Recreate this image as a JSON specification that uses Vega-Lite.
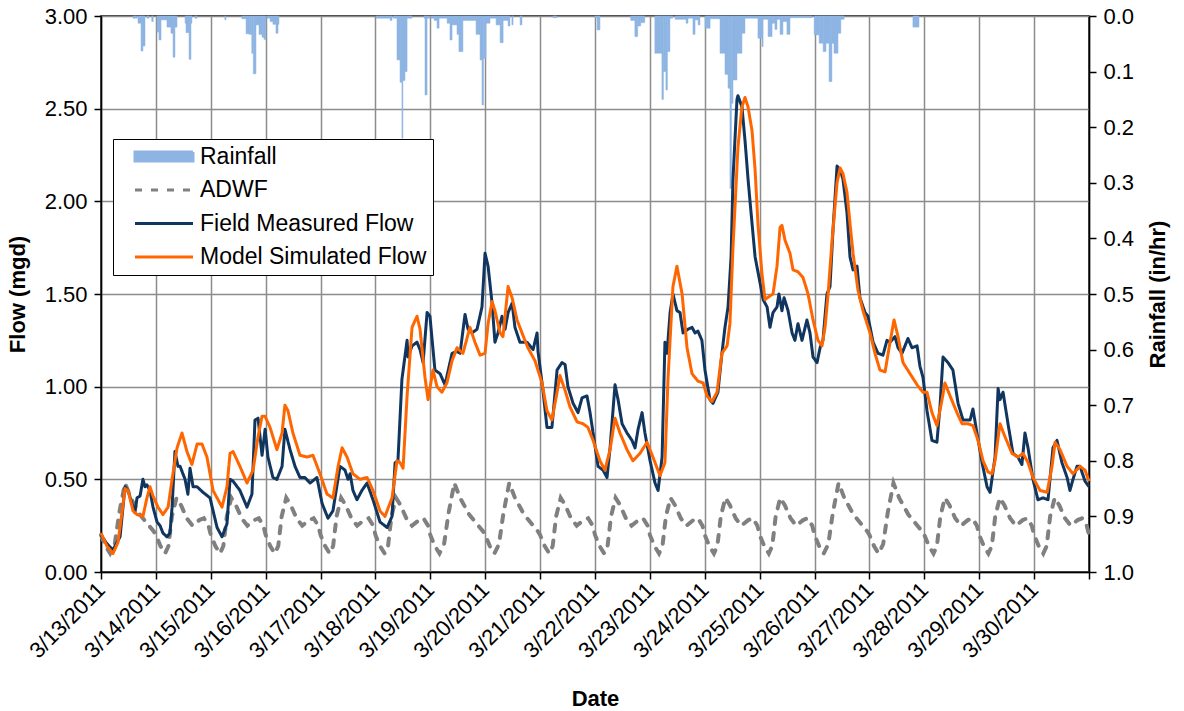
{
  "$schema": "https://vega.github.io/schema/vega-lite/v6.json",
  "width": 988,
  "height": 556,
  "autosize": {"type": "none"},
  "padding": {"left": 101, "top": 16, "right": 95, "bottom": 139},
  "background": "white",
  "config": {
    "font": "Liberation Sans",
    "view": {"stroke": "black", "strokeWidth": 1.5},
    "axis": {
      "labelFont": "Liberation Sans", "labelFontSize": 22, "labelColor": "black",
      "titleFont": "Liberation Sans", "titleFontSize": 22, "titleFontWeight": "bold", "titleColor": "black",
      "domainColor": "black", "domainWidth": 1.5, "tickColor": "black", "tickWidth": 1.5, "tickSize": 7,
      "gridColor": "#8c8c8c", "gridWidth": 1.5, "gridOpacity": 1, "labelPadding": 7
    }
  },
  "datasets": {
    "rain": [
      {"t":"2011-03-13T14:00Z","t2":"2011-03-13T15:45Z","r":0.004},
      {"t":"2011-03-13T16:10Z","t2":"2011-03-13T17:30Z","r":0.013},
      {"t":"2011-03-13T17:30Z","t2":"2011-03-13T18:20Z","r":0.063},
      {"t":"2011-03-13T18:20Z","t2":"2011-03-13T19:15Z","r":0.054},
      {"t":"2011-03-13T20:05Z","t2":"2011-03-13T21:00Z","r":0.004},
      {"t":"2011-03-13T22:10Z","t2":"2011-03-13T22:50Z","r":0.010},
      {"t":"2011-03-14T00:30Z","t2":"2011-03-14T01:20Z","r":0.029},
      {"t":"2011-03-14T01:20Z","t2":"2011-03-14T02:15Z","r":0.043},
      {"t":"2011-03-14T02:15Z","t2":"2011-03-14T04:50Z","r":0.007},
      {"t":"2011-03-14T04:50Z","t2":"2011-03-14T06:35Z","r":0.020},
      {"t":"2011-03-14T06:35Z","t2":"2011-03-14T07:30Z","r":0.031},
      {"t":"2011-03-14T07:30Z","t2":"2011-03-14T08:20Z","r":0.074},
      {"t":"2011-03-14T08:20Z","t2":"2011-03-14T09:15Z","r":0.020},
      {"t":"2011-03-14T12:45Z","t2":"2011-03-14T13:10Z","r":0.013},
      {"t":"2011-03-14T13:10Z","t2":"2011-03-14T14:30Z","r":0.030},
      {"t":"2011-03-14T14:30Z","t2":"2011-03-14T15:20Z","r":0.078},
      {"t":"2011-03-14T15:20Z","t2":"2011-03-14T15:45Z","r":0.013},
      {"t":"2011-03-14T17:05Z","t2":"2011-03-14T18:00Z","r":0.004},
      {"t":"2011-03-15T06:10Z","t2":"2011-03-15T06:40Z","r":0.007},
      {"t":"2011-03-15T13:35Z","t2":"2011-03-15T15:25Z","r":0.005},
      {"t":"2011-03-15T15:25Z","t2":"2011-03-15T16:45Z","r":0.032},
      {"t":"2011-03-15T16:45Z","t2":"2011-03-15T17:55Z","r":0.033},
      {"t":"2011-03-15T17:55Z","t2":"2011-03-15T18:35Z","r":0.067},
      {"t":"2011-03-15T18:35Z","t2":"2011-03-15T19:45Z","r":0.104},
      {"t":"2011-03-15T19:45Z","t2":"2011-03-15T21:05Z","r":0.016},
      {"t":"2011-03-15T21:05Z","t2":"2011-03-15T22:25Z","r":0.033},
      {"t":"2011-03-15T22:25Z","t2":"2011-03-15T23:15Z","r":0.038},
      {"t":"2011-03-15T23:15Z","t2":"2011-03-16T00:05Z","r":0.042},
      {"t":"2011-03-16T00:35Z","t2":"2011-03-16T01:55Z","r":0.004},
      {"t":"2011-03-16T01:55Z","t2":"2011-03-16T03:10Z","r":0.010},
      {"t":"2011-03-16T03:10Z","t2":"2011-03-16T04:30Z","r":0.015},
      {"t":"2011-03-16T04:30Z","t2":"2011-03-16T05:25Z","r":0.031},
      {"t":"2011-03-16T05:25Z","t2":"2011-03-16T05:50Z","r":0.015},
      {"t":"2011-03-18T00:25Z","t2":"2011-03-18T06:25Z","r":0.004},
      {"t":"2011-03-18T06:25Z","t2":"2011-03-18T07:15Z","r":0.008},
      {"t":"2011-03-18T07:40Z","t2":"2011-03-18T09:25Z","r":0.004},
      {"t":"2011-03-18T09:25Z","t2":"2011-03-18T10:45Z","r":0.079},
      {"t":"2011-03-18T10:45Z","t2":"2011-03-18T11:35Z","r":0.119},
      {"t":"2011-03-18T11:35Z","t2":"2011-03-18T12:00Z","r":0.220},
      {"t":"2011-03-18T12:00Z","t2":"2011-03-18T12:55Z","r":0.116},
      {"t":"2011-03-18T12:55Z","t2":"2011-03-18T13:50Z","r":0.100},
      {"t":"2011-03-18T13:50Z","t2":"2011-03-18T16:00Z","r":0.004},
      {"t":"2011-03-18T21:15Z","t2":"2011-03-18T21:40Z","r":0.004},
      {"t":"2011-03-18T21:40Z","t2":"2011-03-18T22:35Z","r":0.142},
      {"t":"2011-03-18T22:35Z","t2":"2011-03-18T23:50Z","r":0.004},
      {"t":"2011-03-19T00:20Z","t2":"2011-03-19T01:40Z","r":0.004},
      {"t":"2011-03-19T01:40Z","t2":"2011-03-19T02:55Z","r":0.008},
      {"t":"2011-03-19T02:55Z","t2":"2011-03-19T03:50Z","r":0.022},
      {"t":"2011-03-19T03:50Z","t2":"2011-03-19T07:20Z","r":0.004},
      {"t":"2011-03-19T07:20Z","t2":"2011-03-19T08:35Z","r":0.013},
      {"t":"2011-03-19T08:35Z","t2":"2011-03-19T09:30Z","r":0.043},
      {"t":"2011-03-19T09:30Z","t2":"2011-03-19T11:40Z","r":0.016},
      {"t":"2011-03-19T11:40Z","t2":"2011-03-19T12:30Z","r":0.033},
      {"t":"2011-03-19T12:30Z","t2":"2011-03-19T14:15Z","r":0.064},
      {"t":"2011-03-19T14:15Z","t2":"2011-03-19T20:00Z","r":0.008},
      {"t":"2011-03-19T20:00Z","t2":"2011-03-19T21:45Z","r":0.033},
      {"t":"2011-03-19T21:45Z","t2":"2011-03-19T22:35Z","r":0.079},
      {"t":"2011-03-19T22:35Z","t2":"2011-03-19T23:15Z","r":0.160},
      {"t":"2011-03-19T23:15Z","t2":"2011-03-20T00:20Z","r":0.076},
      {"t":"2011-03-20T00:20Z","t2":"2011-03-20T02:05Z","r":0.013},
      {"t":"2011-03-20T02:05Z","t2":"2011-03-20T04:45Z","r":0.004},
      {"t":"2011-03-20T04:45Z","t2":"2011-03-20T06:30Z","r":0.016},
      {"t":"2011-03-20T06:30Z","t2":"2011-03-20T07:50Z","r":0.048},
      {"t":"2011-03-20T07:50Z","t2":"2011-03-20T10:00Z","r":0.008},
      {"t":"2011-03-20T10:00Z","t2":"2011-03-20T10:50Z","r":0.018},
      {"t":"2011-03-20T11:40Z","t2":"2011-03-20T12:10Z","r":0.016},
      {"t":"2011-03-20T15:15Z","t2":"2011-03-20T16:05Z","r":0.016},
      {"t":"2011-03-21T05:35Z","t2":"2011-03-21T07:20Z","r":0.003},
      {"t":"2011-03-22T00:00Z","t2":"2011-03-22T00:55Z","r":0.003},
      {"t":"2011-03-22T00:55Z","t2":"2011-03-22T02:10Z","r":0.025},
      {"t":"2011-03-22T15:35Z","t2":"2011-03-22T17:25Z","r":0.008},
      {"t":"2011-03-22T17:25Z","t2":"2011-03-22T18:40Z","r":0.037},
      {"t":"2011-03-22T18:40Z","t2":"2011-03-22T20:00Z","r":0.018},
      {"t":"2011-03-22T20:00Z","t2":"2011-03-22T21:45Z","r":0.012},
      {"t":"2011-03-23T02:10Z","t2":"2011-03-23T05:15Z","r":0.067},
      {"t":"2011-03-23T05:15Z","t2":"2011-03-23T05:55Z","r":0.150},
      {"t":"2011-03-23T05:55Z","t2":"2011-03-23T07:00Z","r":0.100},
      {"t":"2011-03-23T07:00Z","t2":"2011-03-23T07:40Z","r":0.133},
      {"t":"2011-03-23T07:40Z","t2":"2011-03-23T08:45Z","r":0.064},
      {"t":"2011-03-23T08:45Z","t2":"2011-03-23T10:00Z","r":0.004},
      {"t":"2011-03-23T11:00Z","t2":"2011-03-23T15:50Z","r":0.006},
      {"t":"2011-03-23T15:50Z","t2":"2011-03-23T16:40Z","r":0.013},
      {"t":"2011-03-23T16:40Z","t2":"2011-03-23T18:50Z","r":0.004},
      {"t":"2011-03-23T18:50Z","t2":"2011-03-23T19:45Z","r":0.033},
      {"t":"2011-03-23T19:45Z","t2":"2011-03-23T21:05Z","r":0.007},
      {"t":"2011-03-23T21:05Z","t2":"2011-03-23T21:55Z","r":0.016},
      {"t":"2011-03-24T00:05Z","t2":"2011-03-24T02:20Z","r":0.022},
      {"t":"2011-03-24T02:20Z","t2":"2011-03-24T06:40Z","r":0.005},
      {"t":"2011-03-24T06:40Z","t2":"2011-03-24T08:50Z","r":0.067},
      {"t":"2011-03-24T08:50Z","t2":"2011-03-24T10:10Z","r":0.105},
      {"t":"2011-03-24T10:10Z","t2":"2011-03-24T11:00Z","r":0.130},
      {"t":"2011-03-24T11:00Z","t2":"2011-03-24T11:40Z","r":0.310},
      {"t":"2011-03-24T11:40Z","t2":"2011-03-24T12:20Z","r":0.157},
      {"t":"2011-03-24T12:20Z","t2":"2011-03-24T14:05Z","r":0.115},
      {"t":"2011-03-24T14:05Z","t2":"2011-03-24T16:15Z","r":0.067},
      {"t":"2011-03-24T16:15Z","t2":"2011-03-24T17:35Z","r":0.031},
      {"t":"2011-03-24T17:35Z","t2":"2011-03-24T23:15Z","r":0.004},
      {"t":"2011-03-24T23:15Z","t2":"2011-03-25T01:00Z","r":0.040},
      {"t":"2011-03-25T01:00Z","t2":"2011-03-25T01:30Z","r":0.055},
      {"t":"2011-03-25T01:30Z","t2":"2011-03-25T03:40Z","r":0.006},
      {"t":"2011-03-25T03:40Z","t2":"2011-03-25T05:25Z","r":0.037},
      {"t":"2011-03-25T05:25Z","t2":"2011-03-25T06:40Z","r":0.013},
      {"t":"2011-03-25T06:40Z","t2":"2011-03-25T07:35Z","r":0.024},
      {"t":"2011-03-25T07:35Z","t2":"2011-03-25T08:55Z","r":0.006},
      {"t":"2011-03-25T08:55Z","t2":"2011-03-25T10:10Z","r":0.033},
      {"t":"2011-03-25T10:10Z","t2":"2011-03-25T11:55Z","r":0.010},
      {"t":"2011-03-25T11:55Z","t2":"2011-03-25T13:15Z","r":0.033},
      {"t":"2011-03-25T13:15Z","t2":"2011-03-25T22:55Z","r":0.003},
      {"t":"2011-03-25T23:50Z","t2":"2011-03-26T02:00Z","r":0.034},
      {"t":"2011-03-26T02:00Z","t2":"2011-03-26T03:45Z","r":0.049},
      {"t":"2011-03-26T03:45Z","t2":"2011-03-26T05:00Z","r":0.064},
      {"t":"2011-03-26T05:00Z","t2":"2011-03-26T06:20Z","r":0.049},
      {"t":"2011-03-26T06:20Z","t2":"2011-03-26T07:35Z","r":0.118},
      {"t":"2011-03-26T07:35Z","t2":"2011-03-26T08:30Z","r":0.049},
      {"t":"2011-03-26T08:30Z","t2":"2011-03-26T10:15Z","r":0.067},
      {"t":"2011-03-26T10:15Z","t2":"2011-03-26T11:30Z","r":0.031},
      {"t":"2011-03-26T11:30Z","t2":"2011-03-26T12:55Z","r":0.006},
      {"t":"2011-03-27T19:00Z","t2":"2011-03-27T21:40Z","r":0.020}
    ],
    "adwf": [
      {"t":"2011-03-13T00:00Z","v":0.20},{"t":"2011-03-13T02:00Z","v":0.14},{"t":"2011-03-13T04:00Z","v":0.10},{"t":"2011-03-13T06:00Z","v":0.15},{"t":"2011-03-13T08:00Z","v":0.32},{"t":"2011-03-13T10:30Z","v":0.48},{"t":"2011-03-13T13:00Z","v":0.40},{"t":"2011-03-13T17:00Z","v":0.31},{"t":"2011-03-13T21:00Z","v":0.25},{"t":"2011-03-13T23:00Z","v":0.22},
      {"t":"2011-03-14T00:00Z","v":0.20},{"t":"2011-03-14T02:00Z","v":0.14},{"t":"2011-03-14T04:00Z","v":0.10},{"t":"2011-03-14T05:30Z","v":0.14},{"t":"2011-03-14T07:00Z","v":0.30},{"t":"2011-03-14T09:00Z","v":0.40},{"t":"2011-03-14T11:00Z","v":0.36},{"t":"2011-03-14T13:30Z","v":0.29},{"t":"2011-03-14T16:00Z","v":0.25},{"t":"2011-03-14T19:00Z","v":0.28},{"t":"2011-03-14T21:00Z","v":0.29},{"t":"2011-03-14T23:00Z","v":0.25},
      {"t":"2011-03-15T00:00Z","v":0.20},{"t":"2011-03-15T02:00Z","v":0.14},{"t":"2011-03-15T04:00Z","v":0.10},{"t":"2011-03-15T05:30Z","v":0.14},{"t":"2011-03-15T07:00Z","v":0.30},{"t":"2011-03-15T09:00Z","v":0.40},{"t":"2011-03-15T11:00Z","v":0.36},{"t":"2011-03-15T13:30Z","v":0.29},{"t":"2011-03-15T16:00Z","v":0.25},{"t":"2011-03-15T19:00Z","v":0.28},{"t":"2011-03-15T21:00Z","v":0.29},{"t":"2011-03-15T23:00Z","v":0.25},
      {"t":"2011-03-16T00:00Z","v":0.20},{"t":"2011-03-16T02:00Z","v":0.14},{"t":"2011-03-16T04:00Z","v":0.10},{"t":"2011-03-16T05:30Z","v":0.14},{"t":"2011-03-16T07:00Z","v":0.30},{"t":"2011-03-16T09:00Z","v":0.40},{"t":"2011-03-16T11:00Z","v":0.36},{"t":"2011-03-16T13:30Z","v":0.29},{"t":"2011-03-16T16:00Z","v":0.25},{"t":"2011-03-16T19:00Z","v":0.28},{"t":"2011-03-16T21:00Z","v":0.29},{"t":"2011-03-16T23:00Z","v":0.25},
      {"t":"2011-03-17T00:00Z","v":0.20},{"t":"2011-03-17T02:00Z","v":0.14},{"t":"2011-03-17T04:00Z","v":0.10},{"t":"2011-03-17T05:30Z","v":0.14},{"t":"2011-03-17T07:00Z","v":0.30},{"t":"2011-03-17T09:00Z","v":0.40},{"t":"2011-03-17T11:00Z","v":0.36},{"t":"2011-03-17T13:30Z","v":0.29},{"t":"2011-03-17T16:00Z","v":0.25},{"t":"2011-03-17T19:00Z","v":0.28},{"t":"2011-03-17T21:00Z","v":0.29},{"t":"2011-03-17T23:00Z","v":0.25},
      {"t":"2011-03-18T00:00Z","v":0.20},{"t":"2011-03-18T02:00Z","v":0.14},{"t":"2011-03-18T04:00Z","v":0.10},{"t":"2011-03-18T05:30Z","v":0.14},{"t":"2011-03-18T07:00Z","v":0.30},{"t":"2011-03-18T09:00Z","v":0.40},{"t":"2011-03-18T11:00Z","v":0.36},{"t":"2011-03-18T13:30Z","v":0.29},{"t":"2011-03-18T16:00Z","v":0.25},{"t":"2011-03-18T19:00Z","v":0.28},{"t":"2011-03-18T21:00Z","v":0.29},{"t":"2011-03-18T23:00Z","v":0.25},
      {"t":"2011-03-19T00:00Z","v":0.20},{"t":"2011-03-19T02:00Z","v":0.14},{"t":"2011-03-19T04:00Z","v":0.10},{"t":"2011-03-19T06:00Z","v":0.15},{"t":"2011-03-19T08:00Z","v":0.32},{"t":"2011-03-19T10:30Z","v":0.48},{"t":"2011-03-19T13:00Z","v":0.40},{"t":"2011-03-19T17:00Z","v":0.31},{"t":"2011-03-19T21:00Z","v":0.25},{"t":"2011-03-19T23:00Z","v":0.22},
      {"t":"2011-03-20T00:00Z","v":0.20},{"t":"2011-03-20T02:00Z","v":0.14},{"t":"2011-03-20T04:00Z","v":0.10},{"t":"2011-03-20T06:00Z","v":0.15},{"t":"2011-03-20T08:00Z","v":0.32},{"t":"2011-03-20T10:30Z","v":0.48},{"t":"2011-03-20T13:00Z","v":0.40},{"t":"2011-03-20T17:00Z","v":0.31},{"t":"2011-03-20T21:00Z","v":0.25},{"t":"2011-03-20T23:00Z","v":0.22},
      {"t":"2011-03-21T00:00Z","v":0.20},{"t":"2011-03-21T02:00Z","v":0.14},{"t":"2011-03-21T04:00Z","v":0.10},{"t":"2011-03-21T05:30Z","v":0.14},{"t":"2011-03-21T07:00Z","v":0.30},{"t":"2011-03-21T09:00Z","v":0.40},{"t":"2011-03-21T11:00Z","v":0.36},{"t":"2011-03-21T13:30Z","v":0.29},{"t":"2011-03-21T16:00Z","v":0.25},{"t":"2011-03-21T19:00Z","v":0.28},{"t":"2011-03-21T21:00Z","v":0.29},{"t":"2011-03-21T23:00Z","v":0.25},
      {"t":"2011-03-22T00:00Z","v":0.20},{"t":"2011-03-22T02:00Z","v":0.14},{"t":"2011-03-22T04:00Z","v":0.10},{"t":"2011-03-22T05:30Z","v":0.14},{"t":"2011-03-22T07:00Z","v":0.30},{"t":"2011-03-22T09:00Z","v":0.40},{"t":"2011-03-22T11:00Z","v":0.36},{"t":"2011-03-22T13:30Z","v":0.29},{"t":"2011-03-22T16:00Z","v":0.25},{"t":"2011-03-22T19:00Z","v":0.28},{"t":"2011-03-22T21:00Z","v":0.29},{"t":"2011-03-22T23:00Z","v":0.25},
      {"t":"2011-03-23T00:00Z","v":0.20},{"t":"2011-03-23T02:00Z","v":0.14},{"t":"2011-03-23T04:00Z","v":0.10},{"t":"2011-03-23T05:30Z","v":0.14},{"t":"2011-03-23T07:00Z","v":0.30},{"t":"2011-03-23T09:00Z","v":0.40},{"t":"2011-03-23T11:00Z","v":0.36},{"t":"2011-03-23T13:30Z","v":0.29},{"t":"2011-03-23T16:00Z","v":0.25},{"t":"2011-03-23T19:00Z","v":0.28},{"t":"2011-03-23T21:00Z","v":0.29},{"t":"2011-03-23T23:00Z","v":0.25},
      {"t":"2011-03-24T00:00Z","v":0.20},{"t":"2011-03-24T02:00Z","v":0.14},{"t":"2011-03-24T04:00Z","v":0.10},{"t":"2011-03-24T05:30Z","v":0.14},{"t":"2011-03-24T07:00Z","v":0.30},{"t":"2011-03-24T09:00Z","v":0.40},{"t":"2011-03-24T11:00Z","v":0.36},{"t":"2011-03-24T13:30Z","v":0.29},{"t":"2011-03-24T16:00Z","v":0.25},{"t":"2011-03-24T19:00Z","v":0.28},{"t":"2011-03-24T21:00Z","v":0.29},{"t":"2011-03-24T23:00Z","v":0.25},
      {"t":"2011-03-25T00:00Z","v":0.20},{"t":"2011-03-25T02:00Z","v":0.14},{"t":"2011-03-25T04:00Z","v":0.10},{"t":"2011-03-25T05:30Z","v":0.14},{"t":"2011-03-25T07:00Z","v":0.30},{"t":"2011-03-25T09:00Z","v":0.40},{"t":"2011-03-25T11:00Z","v":0.36},{"t":"2011-03-25T13:30Z","v":0.29},{"t":"2011-03-25T16:00Z","v":0.25},{"t":"2011-03-25T19:00Z","v":0.28},{"t":"2011-03-25T21:00Z","v":0.29},{"t":"2011-03-25T23:00Z","v":0.25},
      {"t":"2011-03-26T00:00Z","v":0.20},{"t":"2011-03-26T02:00Z","v":0.14},{"t":"2011-03-26T04:00Z","v":0.10},{"t":"2011-03-26T06:00Z","v":0.15},{"t":"2011-03-26T08:00Z","v":0.32},{"t":"2011-03-26T10:30Z","v":0.48},{"t":"2011-03-26T13:00Z","v":0.40},{"t":"2011-03-26T17:00Z","v":0.31},{"t":"2011-03-26T21:00Z","v":0.25},{"t":"2011-03-26T23:00Z","v":0.22},
      {"t":"2011-03-27T00:00Z","v":0.20},{"t":"2011-03-27T02:00Z","v":0.14},{"t":"2011-03-27T04:00Z","v":0.10},{"t":"2011-03-27T06:00Z","v":0.15},{"t":"2011-03-27T08:00Z","v":0.32},{"t":"2011-03-27T10:30Z","v":0.48},{"t":"2011-03-27T13:00Z","v":0.40},{"t":"2011-03-27T17:00Z","v":0.31},{"t":"2011-03-27T21:00Z","v":0.25},{"t":"2011-03-27T23:00Z","v":0.22},
      {"t":"2011-03-28T00:00Z","v":0.20},{"t":"2011-03-28T02:00Z","v":0.14},{"t":"2011-03-28T04:00Z","v":0.10},{"t":"2011-03-28T05:30Z","v":0.14},{"t":"2011-03-28T07:00Z","v":0.30},{"t":"2011-03-28T09:00Z","v":0.40},{"t":"2011-03-28T11:00Z","v":0.36},{"t":"2011-03-28T13:30Z","v":0.29},{"t":"2011-03-28T16:00Z","v":0.25},{"t":"2011-03-28T19:00Z","v":0.28},{"t":"2011-03-28T21:00Z","v":0.29},{"t":"2011-03-28T23:00Z","v":0.25},
      {"t":"2011-03-29T00:00Z","v":0.20},{"t":"2011-03-29T02:00Z","v":0.14},{"t":"2011-03-29T04:00Z","v":0.10},{"t":"2011-03-29T05:30Z","v":0.14},{"t":"2011-03-29T07:00Z","v":0.30},{"t":"2011-03-29T09:00Z","v":0.40},{"t":"2011-03-29T11:00Z","v":0.36},{"t":"2011-03-29T13:30Z","v":0.29},{"t":"2011-03-29T16:00Z","v":0.25},{"t":"2011-03-29T19:00Z","v":0.28},{"t":"2011-03-29T21:00Z","v":0.29},{"t":"2011-03-29T23:00Z","v":0.25},
      {"t":"2011-03-30T00:00Z","v":0.20},{"t":"2011-03-30T02:00Z","v":0.14},{"t":"2011-03-30T04:00Z","v":0.10},{"t":"2011-03-30T05:30Z","v":0.14},{"t":"2011-03-30T07:00Z","v":0.30},{"t":"2011-03-30T09:00Z","v":0.40},{"t":"2011-03-30T11:00Z","v":0.36},{"t":"2011-03-30T13:30Z","v":0.29},{"t":"2011-03-30T16:00Z","v":0.25},{"t":"2011-03-30T19:00Z","v":0.28},{"t":"2011-03-30T21:00Z","v":0.29},{"t":"2011-03-30T23:00Z","v":0.25},
      {"t":"2011-03-31T00:00Z","v":0.20}
    ],
    "fm": [
      {"t":"2011-03-13T00:00Z","v":0.20},{"t":"2011-03-13T02:10Z","v":0.16},{"t":"2011-03-13T03:55Z","v":0.135},{"t":"2011-03-13T05:15Z","v":0.12},{"t":"2011-03-13T08:20Z","v":0.19},{"t":"2011-03-13T10:30Z","v":0.46},{"t":"2011-03-13T11:50Z","v":0.44},{"t":"2011-03-13T14:00Z","v":0.35},{"t":"2011-03-13T14:50Z","v":0.32},{"t":"2011-03-13T15:45Z","v":0.40},{"t":"2011-03-13T17:05Z","v":0.41},{"t":"2011-03-13T18:20Z","v":0.50},{"t":"2011-03-13T19:15Z","v":0.46},{"t":"2011-03-13T20:05Z","v":0.47},{"t":"2011-03-13T21:25Z","v":0.44},{"t":"2011-03-13T22:45Z","v":0.35},
      {"t":"2011-03-14T00:30Z","v":0.27},{"t":"2011-03-14T01:50Z","v":0.25},{"t":"2011-03-14T03:05Z","v":0.21},{"t":"2011-03-14T04:50Z","v":0.19},{"t":"2011-03-14T06:10Z","v":0.21},{"t":"2011-03-14T07:05Z","v":0.35},{"t":"2011-03-14T08:20Z","v":0.65},{"t":"2011-03-14T09:40Z","v":0.57},{"t":"2011-03-14T10:35Z","v":0.57},{"t":"2011-03-14T12:45Z","v":0.50},{"t":"2011-03-14T14:00Z","v":0.42},{"t":"2011-03-14T14:55Z","v":0.56},{"t":"2011-03-14T16:15Z","v":0.46},{"t":"2011-03-14T18:00Z","v":0.46},{"t":"2011-03-14T20:35Z","v":0.43},{"t":"2011-03-14T23:40Z","v":0.40},
      {"t":"2011-03-15T02:45Z","v":0.24},{"t":"2011-03-15T04:55Z","v":0.19},{"t":"2011-03-15T07:05Z","v":0.26},{"t":"2011-03-15T08:25Z","v":0.50},{"t":"2011-03-15T09:45Z","v":0.49},{"t":"2011-03-15T12:45Z","v":0.44},{"t":"2011-03-15T15:50Z","v":0.35},{"t":"2011-03-15T18:00Z","v":0.42},{"t":"2011-03-15T19:20Z","v":0.82},{"t":"2011-03-15T20:40Z","v":0.83},{"t":"2011-03-15T22:25Z","v":0.63},{"t":"2011-03-15T23:45Z","v":0.77},
      {"t":"2011-03-16T01:00Z","v":0.62},{"t":"2011-03-16T03:10Z","v":0.51},{"t":"2011-03-16T04:55Z","v":0.50},{"t":"2011-03-16T07:10Z","v":0.57},{"t":"2011-03-16T08:25Z","v":0.77},{"t":"2011-03-16T10:40Z","v":0.66},{"t":"2011-03-16T12:50Z","v":0.57},{"t":"2011-03-16T15:00Z","v":0.51},{"t":"2011-03-16T17:10Z","v":0.51},{"t":"2011-03-16T19:25Z","v":0.48},{"t":"2011-03-16T22:25Z","v":0.51},
      {"t":"2011-03-17T00:40Z","v":0.37},{"t":"2011-03-17T03:15Z","v":0.29},{"t":"2011-03-17T05:25Z","v":0.33},{"t":"2011-03-17T08:30Z","v":0.57},{"t":"2011-03-17T10:40Z","v":0.55},{"t":"2011-03-17T12:00Z","v":0.50},{"t":"2011-03-17T12:55Z","v":0.53},{"t":"2011-03-17T14:10Z","v":0.44},{"t":"2011-03-17T15:55Z","v":0.39},{"t":"2011-03-17T18:05Z","v":0.44},{"t":"2011-03-17T20:20Z","v":0.48},{"t":"2011-03-17T22:55Z","v":0.39},
      {"t":"2011-03-18T02:00Z","v":0.27},{"t":"2011-03-18T05:05Z","v":0.24},{"t":"2011-03-18T07:15Z","v":0.30},{"t":"2011-03-18T08:35Z","v":0.59},{"t":"2011-03-18T09:50Z","v":0.60},{"t":"2011-03-18T11:35Z","v":1.04},{"t":"2011-03-18T13:50Z","v":1.25},{"t":"2011-03-18T14:15Z","v":1.16},{"t":"2011-03-18T16:00Z","v":1.22},{"t":"2011-03-18T18:10Z","v":1.24},{"t":"2011-03-18T19:30Z","v":1.20},{"t":"2011-03-18T20:50Z","v":1.13},{"t":"2011-03-18T22:35Z","v":1.40},{"t":"2011-03-18T23:50Z","v":1.38},
      {"t":"2011-03-19T02:00Z","v":1.09},{"t":"2011-03-19T04:15Z","v":1.07},{"t":"2011-03-19T06:25Z","v":1.01},{"t":"2011-03-19T09:30Z","v":1.18},{"t":"2011-03-19T11:40Z","v":1.19},{"t":"2011-03-19T13:00Z","v":1.18},{"t":"2011-03-19T15:10Z","v":1.39},{"t":"2011-03-19T16:30Z","v":1.31},{"t":"2011-03-19T18:15Z","v":1.29},{"t":"2011-03-19T20:25Z","v":1.31},{"t":"2011-03-19T22:35Z","v":1.43},{"t":"2011-03-19T23:55Z","v":1.72},
      {"t":"2011-03-20T01:15Z","v":1.65},{"t":"2011-03-20T03:00Z","v":1.45},{"t":"2011-03-20T04:15Z","v":1.24},{"t":"2011-03-20T05:35Z","v":1.29},{"t":"2011-03-20T07:20Z","v":1.38},{"t":"2011-03-20T08:40Z","v":1.31},{"t":"2011-03-20T10:00Z","v":1.40},{"t":"2011-03-20T11:45Z","v":1.45},{"t":"2011-03-20T13:00Z","v":1.32},{"t":"2011-03-20T15:10Z","v":1.24},{"t":"2011-03-20T18:15Z","v":1.24},{"t":"2011-03-20T20:55Z","v":1.20},{"t":"2011-03-20T22:40Z","v":1.29},{"t":"2011-03-20T23:05Z","v":1.19},
      {"t":"2011-03-21T01:15Z","v":0.98},{"t":"2011-03-21T03:00Z","v":0.78},{"t":"2011-03-21T05:10Z","v":0.78},{"t":"2011-03-21T07:25Z","v":1.09},{"t":"2011-03-21T09:35Z","v":1.13},{"t":"2011-03-21T10:55Z","v":1.12},{"t":"2011-03-21T12:10Z","v":1.00},{"t":"2011-03-21T14:25Z","v":0.91},{"t":"2011-03-21T16:35Z","v":0.86},{"t":"2011-03-21T18:20Z","v":0.94},{"t":"2011-03-21T20:30Z","v":0.95},{"t":"2011-03-21T21:50Z","v":0.86},{"t":"2011-03-21T23:10Z","v":0.75},
      {"t":"2011-03-22T01:20Z","v":0.57},{"t":"2011-03-22T03:30Z","v":0.55},{"t":"2011-03-22T05:15Z","v":0.51},{"t":"2011-03-22T06:35Z","v":0.67},{"t":"2011-03-22T08:45Z","v":1.01},{"t":"2011-03-22T10:05Z","v":0.93},{"t":"2011-03-22T11:50Z","v":0.80},{"t":"2011-03-22T14:00Z","v":0.75},{"t":"2011-03-22T16:10Z","v":0.71},{"t":"2011-03-22T17:30Z","v":0.67},{"t":"2011-03-22T18:50Z","v":0.77},{"t":"2011-03-22T20:35Z","v":0.86},{"t":"2011-03-22T21:50Z","v":0.75},
      {"t":"2011-03-23T00:05Z","v":0.60},{"t":"2011-03-23T02:15Z","v":0.48},{"t":"2011-03-23T03:35Z","v":0.44},{"t":"2011-03-23T05:20Z","v":0.62},{"t":"2011-03-23T06:35Z","v":1.24},{"t":"2011-03-23T07:30Z","v":1.18},{"t":"2011-03-23T08:50Z","v":1.40},{"t":"2011-03-23T10:05Z","v":1.50},{"t":"2011-03-23T11:50Z","v":1.41},{"t":"2011-03-23T13:10Z","v":1.40},{"t":"2011-03-23T14:30Z","v":1.29},{"t":"2011-03-23T16:40Z","v":1.31},{"t":"2011-03-23T18:25Z","v":1.32},{"t":"2011-03-23T19:45Z","v":1.29},{"t":"2011-03-23T21:00Z","v":1.30},{"t":"2011-03-23T22:45Z","v":1.25},
      {"t":"2011-03-24T00:05Z","v":1.09},{"t":"2011-03-24T02:15Z","v":0.93},{"t":"2011-03-24T03:35Z","v":0.91},{"t":"2011-03-24T05:45Z","v":0.97},{"t":"2011-03-24T07:30Z","v":1.18},{"t":"2011-03-24T08:50Z","v":1.32},{"t":"2011-03-24T10:10Z","v":1.43},{"t":"2011-03-24T11:30Z","v":1.70},{"t":"2011-03-24T12:20Z","v":2.12},{"t":"2011-03-24T14:05Z","v":2.55},{"t":"2011-03-24T14:30Z","v":2.57},{"t":"2011-03-24T16:15Z","v":2.51},{"t":"2011-03-24T17:35Z","v":2.33},{"t":"2011-03-24T18:55Z","v":2.12},{"t":"2011-03-24T20:40Z","v":1.88},{"t":"2011-03-24T22:00Z","v":1.70},
      {"t":"2011-03-25T00:10Z","v":1.56},{"t":"2011-03-25T01:30Z","v":1.47},{"t":"2011-03-25T03:15Z","v":1.43},{"t":"2011-03-25T04:30Z","v":1.32},{"t":"2011-03-25T05:50Z","v":1.40},{"t":"2011-03-25T07:35Z","v":1.43},{"t":"2011-03-25T08:25Z","v":1.50},{"t":"2011-03-25T09:45Z","v":1.41},{"t":"2011-03-25T10:40Z","v":1.48},{"t":"2011-03-25T12:25Z","v":1.41},{"t":"2011-03-25T14:10Z","v":1.29},{"t":"2011-03-25T15:25Z","v":1.25},{"t":"2011-03-25T16:45Z","v":1.34},{"t":"2011-03-25T18:30Z","v":1.25},{"t":"2011-03-25T20:40Z","v":1.36},{"t":"2011-03-25T22:00Z","v":1.29},{"t":"2011-03-25T23:20Z","v":1.16},
      {"t":"2011-03-26T01:05Z","v":1.13},{"t":"2011-03-26T02:25Z","v":1.21},{"t":"2011-03-26T03:40Z","v":1.25},{"t":"2011-03-26T05:25Z","v":1.50},{"t":"2011-03-26T06:45Z","v":1.54},{"t":"2011-03-26T08:05Z","v":1.85},{"t":"2011-03-26T09:50Z","v":2.19},{"t":"2011-03-26T11:10Z","v":2.17},{"t":"2011-03-26T12:25Z","v":2.12},{"t":"2011-03-26T14:10Z","v":1.94},{"t":"2011-03-26T15:30Z","v":1.70},{"t":"2011-03-26T16:50Z","v":1.63},{"t":"2011-03-26T18:35Z","v":1.65},{"t":"2011-03-26T19:50Z","v":1.48},{"t":"2011-03-26T22:05Z","v":1.40},{"t":"2011-03-26T23:20Z","v":1.38},
      {"t":"2011-03-27T01:35Z","v":1.24},{"t":"2011-03-27T03:45Z","v":1.18},{"t":"2011-03-27T05:55Z","v":1.17},{"t":"2011-03-27T07:40Z","v":1.25},{"t":"2011-03-27T09:00Z","v":1.24},{"t":"2011-03-27T11:10Z","v":1.27},{"t":"2011-03-27T12:30Z","v":1.21},{"t":"2011-03-27T14:15Z","v":1.18},{"t":"2011-03-27T16:50Z","v":1.26},{"t":"2011-03-27T18:35Z","v":1.21},{"t":"2011-03-27T20:50Z","v":1.22},{"t":"2011-03-27T22:05Z","v":1.11},{"t":"2011-03-27T23:25Z","v":1.05},
      {"t":"2011-03-28T01:10Z","v":0.87},{"t":"2011-03-28T03:20Z","v":0.71},{"t":"2011-03-28T05:30Z","v":0.70},{"t":"2011-03-28T06:50Z","v":0.89},{"t":"2011-03-28T08:10Z","v":1.16},{"t":"2011-03-28T10:20Z","v":1.13},{"t":"2011-03-28T12:30Z","v":1.09},{"t":"2011-03-28T14:45Z","v":0.91},{"t":"2011-03-28T16:55Z","v":0.82},{"t":"2011-03-28T20:00Z","v":0.82},{"t":"2011-03-28T21:15Z","v":0.88},{"t":"2011-03-28T23:00Z","v":0.75},
      {"t":"2011-03-29T01:15Z","v":0.59},{"t":"2011-03-29T03:25Z","v":0.46},{"t":"2011-03-29T04:45Z","v":0.43},{"t":"2011-03-29T06:55Z","v":0.62},{"t":"2011-03-29T08:15Z","v":0.99},{"t":"2011-03-29T09:05Z","v":0.93},{"t":"2011-03-29T10:25Z","v":0.97},{"t":"2011-03-29T12:35Z","v":0.80},{"t":"2011-03-29T14:45Z","v":0.64},{"t":"2011-03-29T16:55Z","v":0.62},{"t":"2011-03-29T18:40Z","v":0.58},{"t":"2011-03-29T20:00Z","v":0.75},{"t":"2011-03-29T21:20Z","v":0.67},{"t":"2011-03-29T23:30Z","v":0.50},
      {"t":"2011-03-30T01:40Z","v":0.39},{"t":"2011-03-30T03:55Z","v":0.40},{"t":"2011-03-30T06:05Z","v":0.39},{"t":"2011-03-30T08:15Z","v":0.67},{"t":"2011-03-30T10:00Z","v":0.71},{"t":"2011-03-30T12:10Z","v":0.59},{"t":"2011-03-30T14:25Z","v":0.51},{"t":"2011-03-30T15:40Z","v":0.44},{"t":"2011-03-30T17:00Z","v":0.50},{"t":"2011-03-30T18:45Z","v":0.57},{"t":"2011-03-30T20:05Z","v":0.57},{"t":"2011-03-30T22:15Z","v":0.49},
      {"t":"2011-03-31T00:00Z","v":0.46}
    ],
    "ms": [
      {"t":"2011-03-13T00:00Z","v":0.21},{"t":"2011-03-13T02:35Z","v":0.14},{"t":"2011-03-13T05:15Z","v":0.10},{"t":"2011-03-13T07:25Z","v":0.16},{"t":"2011-03-13T09:10Z","v":0.32},{"t":"2011-03-13T10:30Z","v":0.45},{"t":"2011-03-13T11:50Z","v":0.44},{"t":"2011-03-13T14:00Z","v":0.33},{"t":"2011-03-13T15:45Z","v":0.31},{"t":"2011-03-13T18:20Z","v":0.30},{"t":"2011-03-13T20:05Z","v":0.40},{"t":"2011-03-13T21:25Z","v":0.46},{"t":"2011-03-13T22:45Z","v":0.41},
      {"t":"2011-03-14T00:55Z","v":0.35},{"t":"2011-03-14T03:05Z","v":0.31},{"t":"2011-03-14T05:20Z","v":0.35},{"t":"2011-03-14T07:05Z","v":0.50},{"t":"2011-03-14T09:15Z","v":0.67},{"t":"2011-03-14T11:25Z","v":0.75},{"t":"2011-03-14T13:35Z","v":0.65},{"t":"2011-03-14T15:45Z","v":0.58},{"t":"2011-03-14T18:00Z","v":0.69},{"t":"2011-03-14T20:10Z","v":0.69},{"t":"2011-03-14T22:20Z","v":0.62},
      {"t":"2011-03-15T01:00Z","v":0.44},{"t":"2011-03-15T04:55Z","v":0.35},{"t":"2011-03-15T07:05Z","v":0.46},{"t":"2011-03-15T08:25Z","v":0.64},{"t":"2011-03-15T09:45Z","v":0.65},{"t":"2011-03-15T12:45Z","v":0.57},{"t":"2011-03-15T15:50Z","v":0.48},{"t":"2011-03-15T18:30Z","v":0.55},{"t":"2011-03-15T20:40Z","v":0.73},{"t":"2011-03-15T22:25Z","v":0.84},{"t":"2011-03-15T23:45Z","v":0.84},
      {"t":"2011-03-16T01:55Z","v":0.78},{"t":"2011-03-16T04:55Z","v":0.66},{"t":"2011-03-16T07:10Z","v":0.75},{"t":"2011-03-16T08:25Z","v":0.90},{"t":"2011-03-16T09:45Z","v":0.87},{"t":"2011-03-16T11:55Z","v":0.75},{"t":"2011-03-16T15:00Z","v":0.63},{"t":"2011-03-16T18:05Z","v":0.62},{"t":"2011-03-16T20:40Z","v":0.63},{"t":"2011-03-16T23:45Z","v":0.53},
      {"t":"2011-03-17T02:50Z","v":0.42},{"t":"2011-03-17T05:25Z","v":0.40},{"t":"2011-03-17T07:40Z","v":0.57},{"t":"2011-03-17T09:25Z","v":0.67},{"t":"2011-03-17T11:35Z","v":0.62},{"t":"2011-03-17T14:10Z","v":0.53},{"t":"2011-03-17T17:15Z","v":0.50},{"t":"2011-03-17T20:20Z","v":0.51},{"t":"2011-03-17T22:55Z","v":0.44},
      {"t":"2011-03-18T02:00Z","v":0.33},{"t":"2011-03-18T04:10Z","v":0.30},{"t":"2011-03-18T07:15Z","v":0.40},{"t":"2011-03-18T09:25Z","v":0.60},{"t":"2011-03-18T10:45Z","v":0.59},{"t":"2011-03-18T12:05Z","v":0.56},{"t":"2011-03-18T13:50Z","v":0.95},{"t":"2011-03-18T16:00Z","v":1.32},{"t":"2011-03-18T18:10Z","v":1.38},{"t":"2011-03-18T19:30Z","v":1.31},{"t":"2011-03-18T21:40Z","v":1.05},{"t":"2011-03-18T23:00Z","v":0.93},
      {"t":"2011-03-19T01:10Z","v":1.09},{"t":"2011-03-19T02:55Z","v":1.00},{"t":"2011-03-19T05:05Z","v":0.97},{"t":"2011-03-19T07:15Z","v":1.02},{"t":"2011-03-19T09:30Z","v":1.14},{"t":"2011-03-19T11:40Z","v":1.21},{"t":"2011-03-19T14:15Z","v":1.18},{"t":"2011-03-19T17:20Z","v":1.32},{"t":"2011-03-19T19:30Z","v":1.24},{"t":"2011-03-19T21:45Z","v":1.17},{"t":"2011-03-19T23:55Z","v":1.18},
      {"t":"2011-03-20T01:15Z","v":1.34},{"t":"2011-03-20T03:00Z","v":1.46},{"t":"2011-03-20T04:15Z","v":1.41},{"t":"2011-03-20T06:30Z","v":1.29},{"t":"2011-03-20T07:45Z","v":1.27},{"t":"2011-03-20T10:00Z","v":1.54},{"t":"2011-03-20T11:45Z","v":1.48},{"t":"2011-03-20T13:55Z","v":1.36},{"t":"2011-03-20T16:05Z","v":1.29},{"t":"2011-03-20T18:40Z","v":1.21},{"t":"2011-03-20T21:45Z","v":1.14},
      {"t":"2011-03-21T00:50Z","v":1.02},{"t":"2011-03-21T03:00Z","v":0.87},{"t":"2011-03-21T05:10Z","v":0.82},{"t":"2011-03-21T07:25Z","v":0.97},{"t":"2011-03-21T08:40Z","v":1.06},{"t":"2011-03-21T10:55Z","v":0.98},{"t":"2011-03-21T13:05Z","v":0.89},{"t":"2011-03-21T16:10Z","v":0.81},{"t":"2011-03-21T18:45Z","v":0.80},{"t":"2011-03-21T20:55Z","v":0.78},{"t":"2011-03-21T23:10Z","v":0.71},
      {"t":"2011-03-22T02:10Z","v":0.60},{"t":"2011-03-22T04:20Z","v":0.55},{"t":"2011-03-22T06:35Z","v":0.66},{"t":"2011-03-22T08:45Z","v":0.83},{"t":"2011-03-22T10:55Z","v":0.75},{"t":"2011-03-22T14:00Z","v":0.66},{"t":"2011-03-22T16:35Z","v":0.60},{"t":"2011-03-22T19:40Z","v":0.64},{"t":"2011-03-22T22:45Z","v":0.70},
      {"t":"2011-03-23T01:20Z","v":0.62},{"t":"2011-03-23T04:25Z","v":0.52},{"t":"2011-03-23T06:35Z","v":0.59},{"t":"2011-03-23T07:55Z","v":1.04},{"t":"2011-03-23T10:05Z","v":1.54},{"t":"2011-03-23T11:50Z","v":1.65},{"t":"2011-03-23T14:05Z","v":1.50},{"t":"2011-03-23T16:15Z","v":1.21},{"t":"2011-03-23T18:25Z","v":1.07},{"t":"2011-03-23T21:00Z","v":1.03},{"t":"2011-03-23T23:15Z","v":1.02},
      {"t":"2011-03-24T01:00Z","v":0.95},{"t":"2011-03-24T03:10Z","v":0.92},{"t":"2011-03-24T05:20Z","v":0.97},{"t":"2011-03-24T07:30Z","v":1.18},{"t":"2011-03-24T09:45Z","v":1.22},{"t":"2011-03-24T11:00Z","v":1.34},{"t":"2011-03-24T12:20Z","v":1.75},{"t":"2011-03-24T14:30Z","v":2.29},{"t":"2011-03-24T16:15Z","v":2.51},{"t":"2011-03-24T17:35Z","v":2.56},{"t":"2011-03-24T18:55Z","v":2.51},{"t":"2011-03-24T20:40Z","v":2.38},{"t":"2011-03-24T22:00Z","v":2.17},{"t":"2011-03-24T23:15Z","v":1.88},
      {"t":"2011-03-25T01:00Z","v":1.61},{"t":"2011-03-25T02:20Z","v":1.47},{"t":"2011-03-25T04:30Z","v":1.49},{"t":"2011-03-25T05:50Z","v":1.50},{"t":"2011-03-25T07:35Z","v":1.65},{"t":"2011-03-25T08:55Z","v":1.86},{"t":"2011-03-25T09:45Z","v":1.87},{"t":"2011-03-25T11:05Z","v":1.79},{"t":"2011-03-25T13:15Z","v":1.72},{"t":"2011-03-25T14:35Z","v":1.63},{"t":"2011-03-25T16:45Z","v":1.62},{"t":"2011-03-25T18:55Z","v":1.59},{"t":"2011-03-25T21:10Z","v":1.50},{"t":"2011-03-25T23:20Z","v":1.36},
      {"t":"2011-03-26T01:30Z","v":1.25},{"t":"2011-03-26T03:15Z","v":1.22},{"t":"2011-03-26T04:35Z","v":1.32},{"t":"2011-03-26T05:55Z","v":1.50},{"t":"2011-03-26T07:40Z","v":1.79},{"t":"2011-03-26T09:50Z","v":2.10},{"t":"2011-03-26T11:10Z","v":2.18},{"t":"2011-03-26T12:25Z","v":2.15},{"t":"2011-03-26T14:10Z","v":2.05},{"t":"2011-03-26T15:30Z","v":1.88},{"t":"2011-03-26T16:50Z","v":1.72},{"t":"2011-03-26T19:00Z","v":1.52},{"t":"2011-03-26T21:10Z","v":1.41},
      {"t":"2011-03-27T00:15Z","v":1.29},{"t":"2011-03-27T02:25Z","v":1.18},{"t":"2011-03-27T04:35Z","v":1.09},{"t":"2011-03-27T06:50Z","v":1.08},{"t":"2011-03-27T09:00Z","v":1.24},{"t":"2011-03-27T10:45Z","v":1.36},{"t":"2011-03-27T12:30Z","v":1.27},{"t":"2011-03-27T14:40Z","v":1.13},{"t":"2011-03-27T17:45Z","v":1.07},{"t":"2011-03-27T20:50Z","v":1.01},{"t":"2011-03-27T23:25Z","v":0.97},
      {"t":"2011-03-28T01:10Z","v":0.97},{"t":"2011-03-28T03:20Z","v":0.86},{"t":"2011-03-28T05:30Z","v":0.79},{"t":"2011-03-28T07:45Z","v":0.93},{"t":"2011-03-28T09:00Z","v":1.02},{"t":"2011-03-28T11:15Z","v":0.95},{"t":"2011-03-28T14:15Z","v":0.86},{"t":"2011-03-28T16:30Z","v":0.80},{"t":"2011-03-28T19:05Z","v":0.80},{"t":"2011-03-28T21:15Z","v":0.79},{"t":"2011-03-28T23:30Z","v":0.71},
      {"t":"2011-03-29T01:40Z","v":0.60},{"t":"2011-03-29T03:50Z","v":0.54},{"t":"2011-03-29T05:35Z","v":0.53},{"t":"2011-03-29T06:55Z","v":0.60},{"t":"2011-03-29T09:05Z","v":0.80},{"t":"2011-03-29T11:15Z","v":0.73},{"t":"2011-03-29T14:20Z","v":0.64},{"t":"2011-03-29T16:55Z","v":0.62},{"t":"2011-03-29T19:10Z","v":0.64},{"t":"2011-03-29T21:20Z","v":0.59},{"t":"2011-03-29T23:30Z","v":0.51},
      {"t":"2011-03-30T02:35Z","v":0.44},{"t":"2011-03-30T05:40Z","v":0.43},{"t":"2011-03-30T07:50Z","v":0.57},{"t":"2011-03-30T09:10Z","v":0.70},{"t":"2011-03-30T11:20Z","v":0.66},{"t":"2011-03-30T14:25Z","v":0.57},{"t":"2011-03-30T17:00Z","v":0.53},{"t":"2011-03-30T20:05Z","v":0.57},{"t":"2011-03-30T22:15Z","v":0.55},
      {"t":"2011-03-31T00:00Z","v":0.49}
    ]
  },
  "encoding": {
    "x": {
      "field": "t", "type": "temporal",
      "scale": {"type": "utc", "nice": false,
        "domain": [{"year": 2011, "month": 3, "date": 13, "utc": true}, {"year": 2011, "month": 3, "date": 31, "utc": true}]},
      "axis": {
        "title": "Date", "tickCount": {"interval": "day", "step": 1},
        "labelAngle": -45, "labelAlign": "right", "labelBaseline": "middle",
        "labelOverlap": false, "labelFlush": false,
        "labelExpr": "utcdate(datum.value) === 31 ? '' : utcFormat(datum.value, '%-m/%-d/%Y')",
        "grid": true, "titlePadding": 27
      }
    }
  },
  "layer": [
    {
      "data": {"name": "rain"},
      "mark": {"type": "rect", "stroke": "#8db4e3", "strokeWidth": 0.5},
      "encoding": {
        "x2": {"field": "t2"},
        "y": {"field": "r", "type": "quantitative",
          "scale": {"domain": [0, 1], "reverse": true, "nice": false},
          "axis": {"orient": "right", "title": "Rainfall (in/hr)", "titleAngle": 270, "titleBaseline": "top",
            "values": [0, 0.1, 0.2, 0.3, 0.4, 0.5, 0.6, 0.7, 0.8, 0.9, 1], "format": ".1f",
            "grid": false, "titlePadding": 14}},
        "y2": {"datum": 0},
        "color": {
          "datum": "Rainfall", "type": "nominal",
          "scale": {"domain": ["Rainfall", "ADWF", "Field Measured Flow", "Model Simulated Flow"],
            "range": ["#8db4e3", "#808080", "#10355f", "#ff6600"]},
          "legend": {
            "orient": "none", "legendX": 12, "legendY": 123, "title": null,
            "fillColor": "white", "strokeColor": "black", "padding": 6,
            "symbolSize": 256, "symbolOffset": 33.5, "labelOffset": 24.5, "rowPadding": 9.5,
            "symbolStrokeWidth": 3, "labelLimit": 600,
            "labelFont": "Liberation Sans", "labelFontSize": 23, "labelColor": "black"
          }
        }
      }
    },
    {
      "layer": [
        {
          "data": {"name": "adwf"},
          "mark": {"type": "line", "strokeWidth": 4, "strokeCap": "round"},
          "encoding": {
            "y": {"field": "v", "type": "quantitative",
              "scale": {"domain": [0, 3], "nice": false},
              "axis": {"title": "Flow (mgd)", "values": [0, 0.5, 1, 1.5, 2, 2.5, 3], "format": ".2f",
                "grid": true, "titlePadding": 15}},
            "color": {"datum": "ADWF", "type": "nominal"},
            "strokeDash": {"datum": "ADWF", "type": "nominal",
              "scale": {"domain": ["Rainfall", "ADWF", "Field Measured Flow", "Model Simulated Flow"],
                "range": [[1, 0], [7, 9], [1, 0], [1, 0]]}}
          }
        },
        {
          "data": {"name": "fm"},
          "mark": {"type": "line", "strokeWidth": 3, "strokeJoin": "round"},
          "encoding": {
            "y": {"field": "v", "type": "quantitative"},
            "color": {"datum": "Field Measured Flow", "type": "nominal"},
            "strokeDash": {"datum": "Field Measured Flow", "type": "nominal"}
          }
        },
        {
          "data": {"name": "ms"},
          "mark": {"type": "line", "strokeWidth": 3, "strokeJoin": "round"},
          "encoding": {
            "y": {"field": "v", "type": "quantitative"},
            "color": {"datum": "Model Simulated Flow", "type": "nominal"},
            "strokeDash": {"datum": "Model Simulated Flow", "type": "nominal"}
          }
        }
      ]
    },
    {
      "data": {"values": []},
      "mark": {"type": "point", "filled": true},
      "encoding": {
        "color": {"datum": "Rainfall", "type": "nominal"},
        "shape": {"datum": "Rainfall", "type": "nominal",
          "scale": {"domain": ["Rainfall", "ADWF", "Field Measured Flow", "Model Simulated Flow"],
            "range": ["M-3.625,-0.55H3.625V0.55H-3.625Z", "M-3.625,0H3.625", "M-3.625,0H3.625", "M-3.625,0H3.625"]}}
      }
    }
  ],
  "resolve": {"scale": {"y": "independent"}}
}
